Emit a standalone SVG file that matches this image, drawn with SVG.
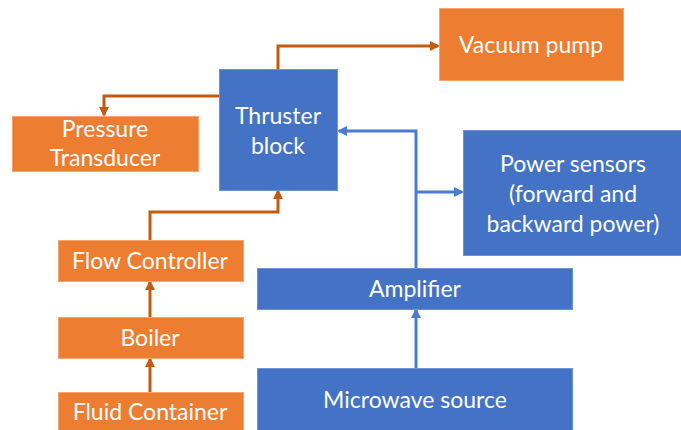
<svg xmlns="http://www.w3.org/2000/svg" width="681" height="430" viewBox="0 0 681 430">
<style>
.o{fill:#ED7D31;stroke:#F4A46E;stroke-width:1}
.b{fill:#4472C4;stroke:#6F92D3;stroke-width:1}
.t{font-family:Lato,"Open Sans",sans-serif;font-size:23px;fill:#FFFFFF;text-anchor:middle}
.ao{fill:none;stroke:#C55A11;stroke-width:3;marker-end:url(#mo)}
.ab{fill:none;stroke:#4A7BD0;stroke-width:3;marker-end:url(#mb)}
</style>
<defs>
<marker id="mo" markerWidth="10" markerHeight="10" refX="8" refY="5" orient="auto" markerUnits="userSpaceOnUse"><path d="M0,0 L10,5 L0,10 Z" fill="#C55A11"/></marker>
<marker id="mb" markerWidth="10" markerHeight="10" refX="8" refY="5" orient="auto" markerUnits="userSpaceOnUse"><path d="M0,0 L10,5 L0,10 Z" fill="#4A7BD0"/></marker>
</defs>
<rect width="681" height="430" fill="#FFFFFF"/>
<g id="connectors">
<path class="ao" d="M278,70 V46 H438"/>
<path class="ao" d="M219,96 H104 V115"/>
<path class="ao" d="M150,240 V212 H278 V191"/>
<path class="ao" d="M150,317 V282"/>
<path class="ao" d="M150,392 V359"/>
<path class="ab" d="M416,268 V131 H339"/>
<path class="ab" d="M416,192 H462"/>
<path class="ab" d="M416,368 V310"/>
</g>
<g id="vacuum"><rect class="o" x="439.5" y="8.5" width="184" height="72"/><text class="t" x="531" y="53">Vacuum pump</text></g>
<g id="thruster"><rect class="b" x="219.5" y="69.5" width="118" height="121"/><text class="t" x="278" y="124">Thruster</text><text class="t" x="278" y="154">block</text></g>
<g id="pressure"><rect class="o" x="12.5" y="116.5" width="186" height="55"/><text class="t" x="105" y="137">Pressure</text><text class="t" x="105" y="166">Transducer</text></g>
<g id="power"><rect class="b" x="463.5" y="130.5" width="218" height="125"/><text class="t" x="573" y="172">Power sensors</text><text class="t" x="573" y="202">(forward and</text><text class="t" x="573" y="232">backward power)</text></g>
<g id="flow"><rect class="o" x="58.5" y="240.5" width="185" height="41"/><text class="t" x="150" y="269">Flow Controller</text></g>
<g id="amplifier"><rect class="b" x="257.5" y="268.5" width="315" height="41"/><text class="t" x="415" y="297">Amplifier</text></g>
<g id="boiler"><rect class="o" x="58.5" y="317.5" width="185" height="41"/><text class="t" x="150" y="346">Boiler</text></g>
<g id="microwave"><rect class="b" x="257.5" y="368.5" width="315" height="70"/><text class="t" x="415" y="408">Microwave source</text></g>
<g id="fluid"><rect class="o" x="58.5" y="392.5" width="185" height="50"/><text class="t" x="150" y="420">Fluid Container</text></g>
</svg>
